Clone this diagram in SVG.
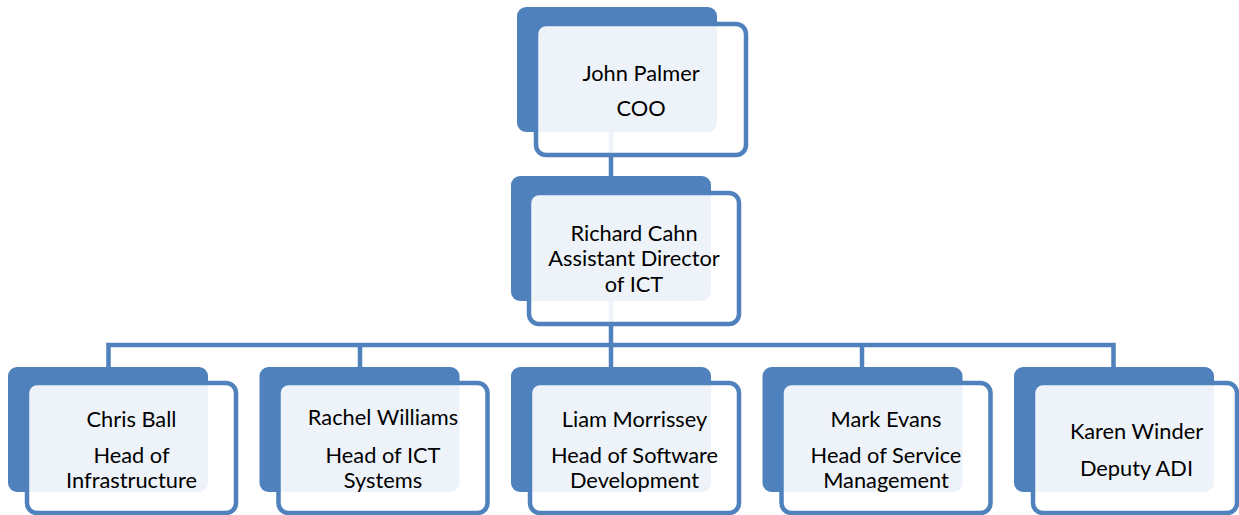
<svg xmlns="http://www.w3.org/2000/svg" width="1239" height="515" viewBox="0 0 1239 515">
  <style>
    .back { fill: #4F81BD; }
    .front { fill: #FFFFFF; fill-opacity: 0.9; stroke: #4F81BD; stroke-width: 4.5; }
    .link { fill: none; stroke: #4F81BD; stroke-width: 4.5; stroke-linejoin: miter; }
    text { font-family: Lato, "Open Sans", "Liberation Sans", sans-serif; font-size: 21.8px; fill: #000000; text-anchor: middle; }
  </style>
  <rect width="1239" height="515" fill="#FFFFFF"/>

  <!-- connectors drawn first so the translucent cards sit on top -->
  <g id="connectors">
    <path class="link" d="M611,132 V178"/>
    <path class="link" d="M611,300 V370"/>
    <path class="link" d="M108.5,370 V345 H1113.5 V370"/>
    <path class="link" d="M360,345 V370"/>
    <path class="link" d="M862,345 V370"/>
  </g>

  <g id="node-john-palmer">
    <rect class="back" x="517" y="7" width="200" height="125" rx="9"/>
    <rect class="front" x="536" y="24" width="210" height="131" rx="10"/>
    <text x="641" y="81">John Palmer</text>
    <text x="641" y="116">COO</text>
  </g>

  <g id="node-richard-cahn">
    <rect class="back" x="511" y="176" width="200" height="125" rx="9"/>
    <rect class="front" x="529" y="193" width="210" height="131" rx="10"/>
    <text x="634" y="241">Richard Cahn</text>
    <text x="634" y="266">Assistant Director</text>
    <text x="634" y="292">of ICT</text>
  </g>

  <g id="node-chris-ball">
    <rect class="back" x="8" y="367" width="200" height="125" rx="9"/>
    <rect class="front" x="27" y="383" width="209" height="130" rx="10"/>
    <text x="131.5" y="427">Chris Ball</text>
    <text x="131.5" y="463">Head of</text>
    <text x="131.5" y="488">Infrastructure</text>
  </g>

  <g id="node-rachel-williams">
    <rect class="back" x="259.5" y="367" width="200" height="125" rx="9"/>
    <rect class="front" x="278.5" y="383" width="209" height="130" rx="10"/>
    <text x="383" y="425">Rachel Williams</text>
    <text x="383" y="463">Head of ICT</text>
    <text x="383" y="488">Systems</text>
  </g>

  <g id="node-liam-morrissey">
    <rect class="back" x="511" y="367" width="200" height="125" rx="9"/>
    <rect class="front" x="530" y="383" width="209" height="130" rx="10"/>
    <text x="634.5" y="427">Liam Morrissey</text>
    <text x="634.5" y="463">Head of Software</text>
    <text x="634.5" y="488">Development</text>
  </g>

  <g id="node-mark-evans">
    <rect class="back" x="762.5" y="367" width="200" height="125" rx="9"/>
    <rect class="front" x="781.5" y="383" width="209" height="130" rx="10"/>
    <text x="886" y="427">Mark Evans</text>
    <text x="886" y="463">Head of Service</text>
    <text x="886" y="488">Management</text>
  </g>

  <g id="node-karen-winder">
    <rect class="back" x="1014" y="367" width="200" height="125" rx="9"/>
    <rect class="front" x="1033" y="383" width="204" height="130" rx="10"/>
    <text x="1136.5" y="439">Karen Winder</text>
    <text x="1136.5" y="476">Deputy ADI</text>
  </g>
</svg>
